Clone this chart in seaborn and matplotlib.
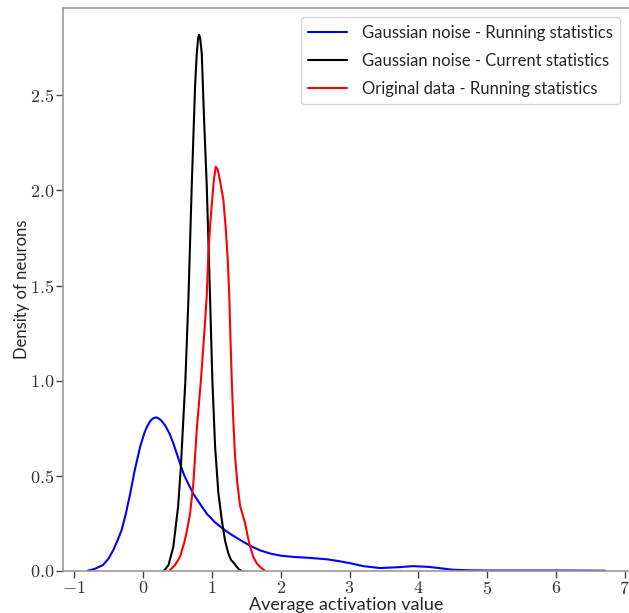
import numpy as np
import pandas as pd
import matplotlib
matplotlib.use("Agg")
import matplotlib.pyplot as plt
import seaborn as sns
from matplotlib.ticker import FuncFormatter

# ---- data ----
blue_x = [-0.80, -0.70, -0.58, -0.50, -0.43, -0.37, -0.31, -0.25, -0.19, -0.12, -0.04, 0.02, 0.06, 0.10,
          0.14, 0.17, 0.20, 0.23, 0.26, 0.32, 0.38, 0.44, 0.50, 0.55, 0.60, 0.66, 0.73, 0.83, 0.93, 1.05, 1.17, 1.29,
          1.41, 1.55, 1.70, 1.85, 2.00, 2.20, 2.40, 2.67, 2.85, 3.00, 3.20, 3.44, 3.69, 3.93, 4.15,
          4.32, 4.50, 4.75, 5.00, 5.50, 6.00, 6.40, 6.71]
blue_y = [0.0, 0.01, 0.03, 0.065, 0.11, 0.16, 0.215, 0.30, 0.40, 0.53, 0.655, 0.725, 0.76, 0.785,
          0.80, 0.805, 0.806, 0.80, 0.792, 0.765, 0.725, 0.67, 0.605, 0.55, 0.50, 0.455, 0.405, 0.35, 0.298, 0.253, 0.218, 0.188,
          0.162, 0.132, 0.107, 0.09, 0.079, 0.072, 0.068, 0.06, 0.05, 0.04, 0.024, 0.014, 0.018, 0.024, 0.02,
          0.013, 0.005, 0.002, 0.001, 0.001, 0.001, 0.0005, 0.0]

black_x = [0.305, 0.37, 0.44, 0.51, 0.55, 0.59, 0.615, 0.659, 0.707, 0.756, 0.78, 0.80, 0.814, 0.83,
           0.853, 0.887, 0.926, 0.974, 1.007, 1.047, 1.094, 1.144, 1.19, 1.24, 1.28, 1.31, 1.36, 1.40, 1.43]
black_y = [0.0, 0.03, 0.126, 0.34, 0.55, 0.83, 1.0, 1.43, 2.02, 2.55, 2.72, 2.80, 2.82, 2.80,
           2.72, 2.37, 2.02, 1.43, 1.0, 0.65, 0.41, 0.267, 0.16, 0.09, 0.055, 0.045, 0.021, 0.005, 0.0]

red_x = [0.383, 0.465, 0.54, 0.60, 0.635, 0.683, 0.731, 0.78, 0.84, 0.89, 0.926, 0.949, 0.975, 0.997,
         1.03, 1.057, 1.085, 1.119, 1.167, 1.20, 1.23, 1.254, 1.27, 1.289, 1.31, 1.337, 1.37, 1.41, 1.45,
         1.483, 1.515, 1.545, 1.60, 1.65, 1.70, 1.77]
red_y = [0.0, 0.03, 0.075, 0.15, 0.205, 0.30, 0.46, 0.74, 1.0, 1.25, 1.45, 1.67, 1.82, 1.92,
         2.06, 2.125, 2.11, 2.05, 1.95, 1.81, 1.64, 1.43, 1.22, 1.0, 0.80, 0.60, 0.46, 0.34, 0.29,
         0.25, 0.19, 0.14, 0.074, 0.04, 0.02, 0.0]

labels = ["Gaussian noise - Running statistics",
          "Gaussian noise - Current statistics",
          "Original data - Running statistics"]
colors = ["blue", "black", "red"]
x_ticks = [-1, 0, 1, 2, 3, 4, 5, 6, 7]
y_ticks = [0.0, 0.5, 1.0, 1.5, 2.0, 2.5]

df = pd.concat([
    pd.DataFrame({"x": blue_x, "y": blue_y, "series": labels[0]}),
    pd.DataFrame({"x": black_x, "y": black_y, "series": labels[1]}),
    pd.DataFrame({"x": red_x, "y": red_y, "series": labels[2]}),
], ignore_index=True)

sns.set_style("white")
plt.rcParams["font.family"] = ["Lato", "DejaVu Sans"]
plt.rcParams["mathtext.fontset"] = "cm"

fig = plt.figure(figsize=(6.29, 6.13), dpi=100)
ax = fig.add_axes([63 / 629, 42.3 / 613, 1 - 63 / 629, 562.7 / 613])

sns.lineplot(data=df, x="x", y="y", hue="series", palette=dict(zip(labels, colors)),
             hue_order=labels, estimator=None, sort=False, linewidth=1.5, ax=ax)

ax.set_xlim(-1.163, 7.06)
ax.set_ylim(0, 2.96)
ax.set_xticks(x_ticks)
ax.set_yticks(y_ticks)
ax.xaxis.set_major_formatter(FuncFormatter(lambda v, p: r"$%d$" % v))
ax.yaxis.set_major_formatter(FuncFormatter(lambda v, p: r"$%.1f$" % v))
ax.tick_params(axis="both", labelsize=13, colors="#444444", length=5, width=1, direction="out",
               bottom=True, left=True, pad=1.5)
for lab in ax.get_xticklabels() + ax.get_yticklabels():
    lab.set_color("#333333")
for s in ["left", "bottom", "top"]:
    ax.spines[s].set_color("#999999")
    ax.spines[s].set_linewidth(1.2)
ax.spines["right"].set_visible(False)

ax.set_xlabel("Average activation value", fontsize=13, labelpad=0)
ax.set_ylabel("Density of neurons", fontsize=12)
ax.yaxis.set_label_coords(-0.058, 0.5)

leg = ax.legend(loc="upper right", bbox_to_anchor=((620 - 63) / (629 - 63), (570.7 - 17.3) / 562.7),
                fontsize=12, frameon=True, handlelength=2.3, handletextpad=0.9,
                labelspacing=0.72, borderaxespad=0.0, borderpad=0.45)
leg.get_frame().set_edgecolor("#cccccc")

fig.savefig("out.png", dpi=100)
